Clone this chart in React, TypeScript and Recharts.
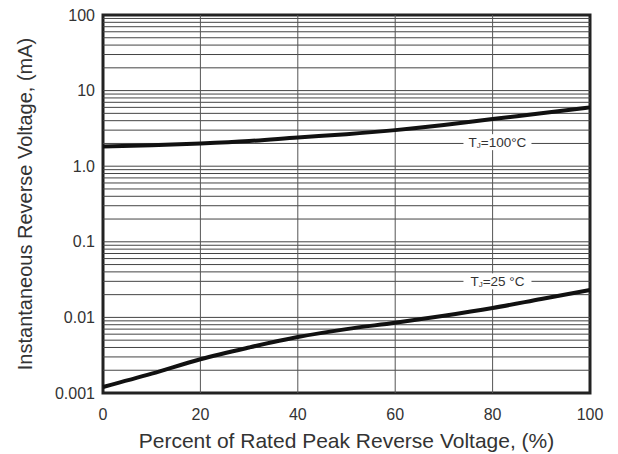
import React from "react";
import {
  LineChart,
  Line,
  XAxis,
  YAxis,
  ReferenceLine,
  ReferenceArea,
  ReferenceDot,
  Label,
} from "recharts";

const FONT = '"Liberation Sans", Arial, Helvetica, sans-serif';

// percent of rated peak reverse voltage
const percent = [0, 10, 20, 30, 40, 50, 60, 70, 80, 90, 100];
// reverse current, mA
const tj100 = [1.82, 1.9, 2.0, 2.15, 2.4, 2.65, 3.0, 3.5, 4.2, 5.0, 6.0];
const tj25 = [0.0012, 0.0018, 0.0028, 0.004, 0.0055, 0.007, 0.0085, 0.0105, 0.0133, 0.0175, 0.023];

const xTicks = [0, 20, 40, 60, 80, 100];
const yTicks = [0.001, 0.01, 0.1, 1, 10, 100];
const xGrid = [20, 40, 60, 80];
const yGrid = [
  0.002, 0.003, 0.004, 0.005, 0.006, 0.007, 0.008, 0.009, 0.01,
  0.02, 0.03, 0.04, 0.05, 0.06, 0.07, 0.08, 0.09, 0.1,
  0.2, 0.3, 0.4, 0.5, 0.6, 0.7, 0.8, 0.9, 1,
  2, 3, 4, 5, 6, 7, 8, 9, 10,
  20, 30, 40, 50, 60, 70, 80, 90,
];

const data = percent.map((p, i) => ({ p, hot: tj100[i], cold: tj25[i] }));

const TempTag = (props: any) => {
  const { cx, cy, temp, gap } = props;
  return (
    <g>
      <rect x={cx - 34} y={cy - 8} width={68} height={16} fill="#fff" />
      <text
        x={cx}
        y={cy}
        textAnchor="middle"
        dominantBaseline="central"
        fontFamily={FONT}
        fontSize={13.5}
        fill="#333"
      >
        T
        <tspan fontSize={8} dy={3}>
          J
        </tspan>
        <tspan dy={-3}>={temp}</tspan>
        {gap ? " " : ""}
        <tspan>°C</tspan>
      </text>
    </g>
  );
};

const App: React.FC = () => {
  return (
    <div style={{ position: "absolute", left: 0, top: 0, background: "#fff" }}>
      <LineChart
        width={618}
        height={454}
        data={data}
        margin={{ top: 15, right: 28, left: 0, bottom: 0 }}
      >
        <XAxis
          dataKey="p"
          type="number"
          domain={[0, 100]}
          ticks={xTicks}
          axisLine={false}
          tickLine={false}
          tickMargin={10}
          height={61}
          tick={{ fill: "#333", fontSize: 16, fontFamily: FONT }}
        >
          <Label
            value="Percent of Rated Peak Reverse Voltage, (%)"
            position="insideBottom"
            offset={6}
            style={{ fill: "#333", fontSize: 21, fontFamily: FONT }}
          />
        </XAxis>
        <YAxis
          scale="log"
          type="number"
          domain={[0.001, 100]}
          allowDataOverflow
          ticks={yTicks}
          axisLine={false}
          tickLine={false}
          tickMargin={2}
          width={103}
          tickFormatter={(v: number) => (v === 1 ? "1.0" : String(v))}
          tick={{ fill: "#333", fontSize: 16, fontFamily: FONT }}
        >
          <Label
            value="Instantaneous Reverse Voltage, (mA)"
            angle={-90}
            position="insideLeft"
            offset={25}
            style={{ textAnchor: "middle", fill: "#333", fontSize: 20, fontFamily: FONT }}
          />
        </YAxis>
        {yGrid.map((v) => (
          <ReferenceLine key={`h${v}`} y={v} stroke="#444" strokeWidth={1} />
        ))}
        {xGrid.map((v) => (
          <ReferenceLine key={`v${v}`} x={v} stroke="#555" strokeWidth={1} />
        ))}
        <ReferenceDot
          x={81}
          y={2.08}
          r={0}
          shape={(p: any) => <TempTag {...p} temp="100" gap={false} />}
        />
        <ReferenceDot
          x={81}
          y={0.03}
          r={0}
          shape={(p: any) => <TempTag {...p} temp="25" gap={true} />}
        />
        <Line
          dataKey="hot"
          type="monotone"
          stroke="#111"
          strokeWidth={4}
          dot={false}
          isAnimationActive={false}
        />
        <Line
          dataKey="cold"
          type="monotone"
          stroke="#111"
          strokeWidth={4}
          dot={false}
          isAnimationActive={false}
        />
        <ReferenceArea
          x1={0}
          x2={100}
          y1={0.001}
          y2={100}
          fill="none"
          stroke="#222"
          strokeWidth={3}
          ifOverflow="visible"
        />
      </LineChart>
    </div>
  );
};

export default App;
